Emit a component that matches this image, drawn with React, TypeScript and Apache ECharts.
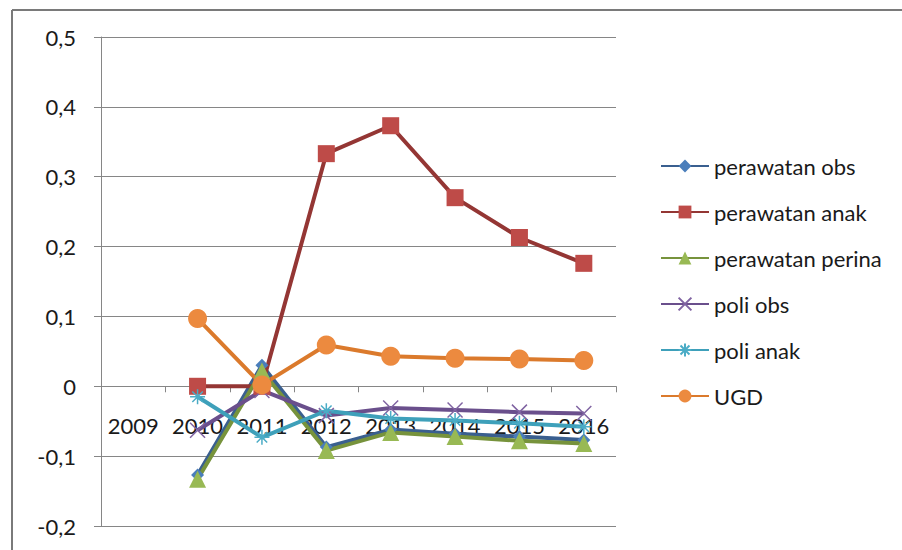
import React, { useEffect, useRef } from "react";
import * as echarts from "echarts";

// Years on the category axis
const years = ["2009", "2010", "2011", "2012", "2013", "2014", "2015", "2016"];

// Series values per year (2009 has no data)
const perawatanObs = [null, -0.127, 0.03, -0.087, -0.062, -0.068, -0.072, -0.077];
const perawatanAnak = [null, 0.0, 0.0, 0.333, 0.373, 0.27, 0.213, 0.176];
const perawatanPerina = [null, -0.133, 0.022, -0.092, -0.066, -0.072, -0.078, -0.082];
const poliObs = [null, -0.063, -0.006, -0.042, -0.031, -0.034, -0.037, -0.039];
const poliAnak = [null, -0.015, -0.073, -0.035, -0.046, -0.049, -0.053, -0.058];
const ugd = [null, 0.097, 0.002, 0.059, 0.043, 0.04, 0.039, 0.037];

// Y axis range
const yMin = -0.2;
const yMax = 0.5;
const yStep = 0.1;

const FONT = "Lato";

// Plot box (px)
const GRID_TOP = 37;
const GRID_BOTTOM = 24;
const CHART_H = 550;

const crossSymbol = "path://M0,0 L10,10 M10,0 L0,10";
const starSymbol = "path://M5,0 L5,10 M0,5 L10,5 M1.5,1.5 L8.5,8.5 M8.5,1.5 L1.5,8.5";

export default function App() {
  const ref = useRef<HTMLDivElement>(null);

  useEffect(() => {
    if (!ref.current) return;
    const chart = echarts.init(ref.current, null, { renderer: "svg" });

    // The category axis sits on the zero line of the value axis
    const plotH = CHART_H - GRID_TOP - GRID_BOTTOM;
    const zeroOffset = -((0 - yMin) / (yMax - yMin)) * plotH;

    const lineSeries = (
      name: string,
      data: (number | null)[],
      lineColor: string,
      markColor: string,
      symbol: string,
      symbolSize: number,
      stroked = false
    ) => ({
      name,
      type: "line",
      data,
      symbol,
      symbolSize,
      showSymbol: true,
      connectNulls: false,
      lineStyle: { color: lineColor, width: 4 },
      itemStyle: stroked
        ? { color: "none", borderColor: markColor, borderWidth: 1.5 }
        : { color: markColor, borderColor: markColor, borderWidth: 0 },
      emphasis: { disabled: true },
    });

    chart.setOption({
      animation: false,
      backgroundColor: "#ffffff",
      grid: { left: 101, right: 286, top: GRID_TOP, bottom: GRID_BOTTOM, containLabel: false },
      xAxis: {
        type: "category",
        data: years,
        boundaryGap: true,
        position: "bottom",
        offset: zeroOffset,
        axisLine: { onZero: false, lineStyle: { color: "#868686", width: 1 } },
        axisTick: { show: true, length: 6, lineStyle: { color: "#868686" } },
        axisLabel: {
          interval: 0,
          margin: 28,
          color: "#1a1a1a",
          fontFamily: FONT,
          fontSize: 22,
        },
        splitLine: { show: false },
      },
      yAxis: {
        type: "value",
        min: yMin,
        max: yMax,
        interval: yStep,
        axisLine: { show: true, lineStyle: { color: "#868686", width: 1 } },
        axisTick: { show: true, length: 7, lineStyle: { color: "#868686" } },
        axisLabel: {
          margin: 25,
          color: "#1a1a1a",
          fontFamily: FONT,
          fontSize: 22,
          formatter: (v: number) =>
            Math.abs(v) < 1e-9 ? "0" : v.toFixed(1).replace(".", ","),
        },
        splitLine: { show: true, lineStyle: { color: "#868686", width: 1 } },
      },
      legend: {
        orient: "vertical",
        left: 655,
        top: 150,
        itemWidth: 48,
        itemHeight: 16,
        itemGap: 24,
        textStyle: { color: "#1a1a1a", fontFamily: FONT, fontSize: 22 },
        data: [
          "perawatan obs",
          "perawatan anak",
          "perawatan perina",
          "poli obs",
          "poli anak",
          "UGD",
        ],
      },
      graphic: [
        {
          type: "line",
          shape: { x1: 12, y1: 10, x2: 902, y2: 10 },
          style: { stroke: "#7a7a7a", lineWidth: 2 },
        },
        {
          type: "line",
          shape: { x1: 12, y1: 10, x2: 12, y2: 550 },
          style: { stroke: "#7a7a7a", lineWidth: 2 },
        },
      ],
      series: [
        lineSeries("perawatan obs", perawatanObs, "#3A5F8F", "#4A7EBB", "diamond", 13),
        lineSeries("perawatan anak", perawatanAnak, "#943634", "#BE4B48", "rect", 17),
        lineSeries("perawatan perina", perawatanPerina, "#77933C", "#98B954", "triangle", 17),
        lineSeries("poli obs", poliObs, "#6A4F8C", "#8064A2", crossSymbol, 15, true),
        lineSeries("poli anak", poliAnak, "#3EA0BA", "#4BACC6", starSymbol, 15, true),
        lineSeries("UGD", ugd, "#DB7A2C", "#EC8A3F", "circle", 19),
      ],
    });

    return () => chart.dispose();
  }, []);

  return (
    <div
      ref={ref}
      style={{ position: "fixed", left: 0, top: 0, width: 902, height: 550 }}
    />
  );
}
